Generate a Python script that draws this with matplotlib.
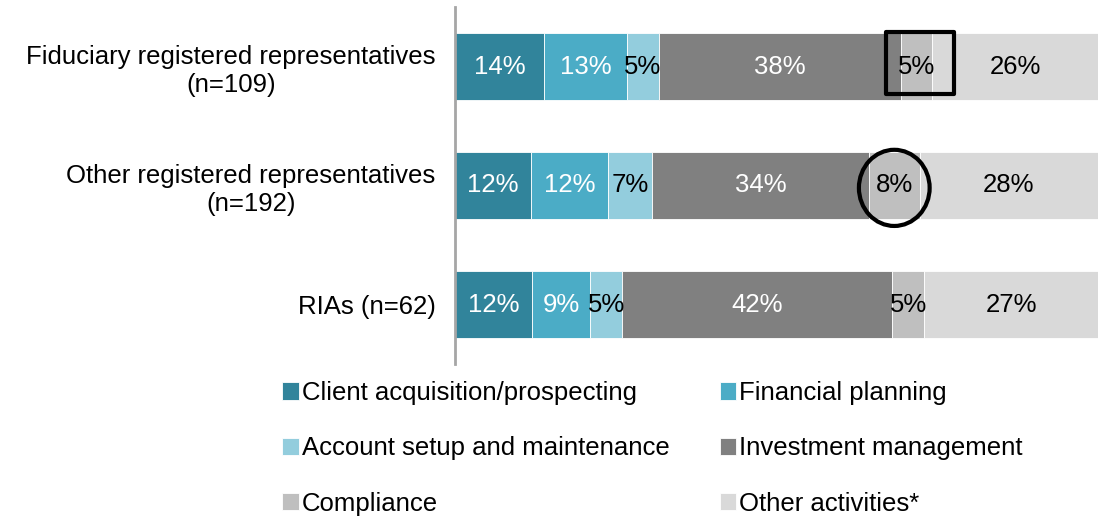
import matplotlib
matplotlib.use("Agg")
import matplotlib.pyplot as plt
from matplotlib.patches import Rectangle, Ellipse
import numpy as np

plt.rcParams['font.family'] = ['Liberation Sans', 'DejaVu Sans']

groups = ["Fiduciary registered representatives\n(n=109)",
          "Other registered representatives\n(n=192)",
          "RIAs (n=62)"]
series = ["Client acquisition/prospecting", "Financial planning",
          "Account setup and maintenance", "Investment management",
          "Compliance", "Other activities*"]
client = [14, 12, 12]
planning = [13, 12, 9]
account = [5, 7, 5]
investment = [38, 34, 42]
compliance = [5, 8, 5]
other = [26, 28, 27]

colors = ["#31849B", "#4BACC6", "#93CDDD", "#808080", "#BFBFBF", "#D9D9D9"]
text_colors = ["white", "white", "black", "white", "black", "black"]

FS = 18.5

data = np.array([client, planning, account, investment, compliance, other], dtype=float)
totals = data.sum(axis=0)
widths = data / totals * 100

fig = plt.figure(figsize=(10.98, 5.16), dpi=100)
ax = fig.add_axes([455/1098, 1 - 364/516, (1098-455)/1098, 357/516])

y = np.arange(len(groups))
left = np.zeros(len(groups))
for i, s in enumerate(series):
    ax.barh(y, widths[i], left=left, height=0.56, color=colors[i], label=s,
            edgecolor='white', linewidth=0.6)
    for j in range(len(groups)):
        ax.text(left[j] + widths[i][j] / 2, y[j], f"{int(data[i][j])}%",
                ha='center', va='center', fontsize=FS, color=text_colors[i])
    left = left + widths[i]

ax.set_xlim(0, 100)
ax.set_ylim(len(groups) - 0.5, -0.5)
ax.set_yticks(y)
ax.set_yticklabels(groups, fontsize=FS, multialignment='center', linespacing=1.2)
ax.tick_params(axis='y', length=0, pad=14)
ax.set_xticks([])
for sp in ['top', 'right', 'bottom']:
    ax.spines[sp].set_visible(False)
ax.spines['left'].set_color('#A6A6A6')
ax.spines['left'].set_linewidth(2)

# highlight box around Fiduciary compliance
comp_start0 = widths[:4, 0].sum()
ax.add_patch(Rectangle((comp_start0 - 2.3, -0.29), widths[4, 0] + 5.6, 0.525,
                       fill=False, edgecolor='black', linewidth=3, zorder=5,
                       joinstyle='round'))
# highlight circle around Other RR compliance
comp_start1 = widths[:4, 1].sum()
ax.add_patch(Ellipse((comp_start1 + widths[4, 1] / 2, 1.02), 11, 0.64,
                     fill=False, edgecolor='black', linewidth=3, zorder=5))

handles, labels = ax.get_legend_handles_labels()
order = [0, 2, 4, 1, 3, 5]
leg = fig.legend([handles[k] for k in order], [labels[k] for k in order],
                 ncol=2, loc='upper left', bbox_to_anchor=(282/1098, 1 - 381/516),
                 frameon=False, fontsize=FS, handlelength=0.65, handleheight=0.65,
                 handletextpad=0.12, columnspacing=1.95, labelspacing=1.22,
                 borderaxespad=0, borderpad=0)

fig.savefig("out.png", dpi=100)
